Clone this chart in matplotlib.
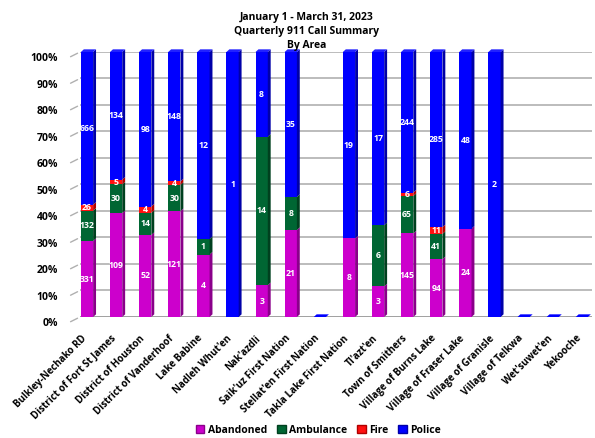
import numpy as np
import matplotlib.pyplot as plt
from matplotlib.patches import Polygon
from matplotlib.transforms import ScaledTranslation

areas = ["Bulkley-Nechako RD", "District of Fort St James", "District of Houston",
         "District of Vanderhoof", "Lake Babine", "Nadleh Whut'en", "Nak'azdli",
         "Saik'uz First Nation", "Stellat'en First Nation", "Takla Lake First Nation",
         "Tl'azt'en", "Town of Smithers", "Village of Burns Lake",
         "Village of Fraser Lake", "Village of Granisle", "Village of Telkwa",
         "Wet'suwet'en", "Yekooche"]
abandoned = [331, 109, 52, 121, 4, 0, 3, 21, 0, 8, 3, 145, 94, 24, 0, 0, 0, 0]
ambulance = [132, 30, 14, 30, 1, 0, 14, 8, 0, 0, 6, 65, 41, 0, 0, 0, 0, 0]
fire = [26, 5, 4, 4, 0, 0, 0, 0, 0, 0, 0, 6, 11, 0, 0, 0, 0, 0]
police = [666, 134, 98, 148, 12, 1, 8, 35, 0, 19, 17, 244, 285, 48, 2, 0, 0, 0]
levels = list(range(0, 101, 10))

series = ["Abandoned", "Ambulance", "Fire", "Police"]
front = ["#cc00cc", "#006633", "#ff1010", "#0000ff"]
side = ["#8a008a", "#00401f", "#b00000", "#0000a8"]
top = ["#e040e0", "#1a7a45", "#ff5050", "#2020ff"]

plt.rcParams['font.family'] = ['Open Sans', 'DejaVu Sans']
plt.rcParams['font.weight'] = 'bold'

fig = plt.figure(figsize=(5.95, 4.38), dpi=100)
ax = fig.add_axes([0.1345, 0.2763, 0.860, 0.605])

counts = np.array([abandoned, ambulance, fire, police], dtype=float)
totals = counts.sum(axis=0)
pct = np.where(totals > 0, counts / np.where(totals > 0, totals, 1) * 100, 0)

x = np.arange(len(areas))
w = 0.42      # front face width
d = 0.10      # depth in x
dy = 1.0      # depth in y (percent)

# gridlines + left wall
ytrans = ax.get_yaxis_transform()
for lev in levels:
    ax.axhline(lev, color='#b0b0b0' if lev else '#909090', lw=1.2, zorder=0)
    ax.annotate('', xy=(0, lev), xycoords=('axes fraction', 'data'),
                xytext=(-8.6, -4.3), textcoords='offset points',
                arrowprops=dict(arrowstyle='-', color='#b0b0b0', lw=1.0),
                annotation_clip=False)
    ax.text(0, lev, f"{lev}%", transform=ytrans + ScaledTranslation(-0.22, -0.07, fig.dpi_scale_trans),
            ha='right', va='center', fontsize=7.5, fontweight='bold')

bottom = np.zeros(len(areas))
for k in range(4):
    h = pct[k]
    ax.bar(x, h, w, bottom=bottom, color=front[k], zorder=3, clip_on=False)
    for i in range(len(areas)):
        if h[i] <= 0:
            continue
        y0, y1 = bottom[i], bottom[i] + h[i]
        xr = x[i] + w / 2
        ax.add_patch(Polygon([(xr, y0), (xr + d, y0 + dy), (xr + d, y1 + dy), (xr, y1)],
                             closed=True, fc=side[k], ec='none', zorder=3, clip_on=False))
        if counts[k, i] > 0:
            ax.text(x[i], y0 + h[i] / 2, f"{int(counts[k, i])}", color='white',
                    fontsize=6.3, fontweight='bold', ha='center', va='center', zorder=5)
    bottom = bottom + h

# top faces (and the flat face of empty bars)
for i in range(len(areas)):
    yt = bottom[i]
    xl, xr = x[i] - w / 2, x[i] + w / 2
    ax.add_patch(Polygon([(xl, yt), (xr, yt), (xr + d, yt + dy), (xl + d, yt + dy)],
                         closed=True, fc=top[3] if yt > 0 else '#0000ff',
                         ec='none', zorder=4, clip_on=False))

ax.set_xlim(-0.24, len(areas) - 0.66)
ax.set_ylim(0, 100)
ax.set_yticks([])
ax.set_xticks([])
xtrans = ax.get_xaxis_transform()
for i, name in enumerate(areas):
    ax.text(x[i], 0, name, transform=xtrans + ScaledTranslation(-0.02, -0.2, fig.dpi_scale_trans),
            rotation=45, ha='right', va='center', rotation_mode='anchor',
            fontsize=7, fontweight='bold')
for s in ax.spines.values():
    s.set_visible(False)

fig.text(0.515, 0.973, "January 1 - March 31, 2023\nQuarterly 911 Call Summary\nBy Area",
         ha='center', va='top', fontsize=7.5, fontweight='bold', linespacing=1.38)

handles = [plt.Rectangle((0, 0), 1, 1, fc=front[k], ec=side[k], lw=1) for k in range(4)]
fig.legend(handles, series, loc='center', bbox_to_anchor=(0.535, 0.017), ncol=4,
           frameon=False, handlelength=0.8, handleheight=0.8,
           handletextpad=0.3, columnspacing=1.0, prop={'weight': 'bold', 'size': 7.5})

fig.savefig('out.png', dpi=100)
